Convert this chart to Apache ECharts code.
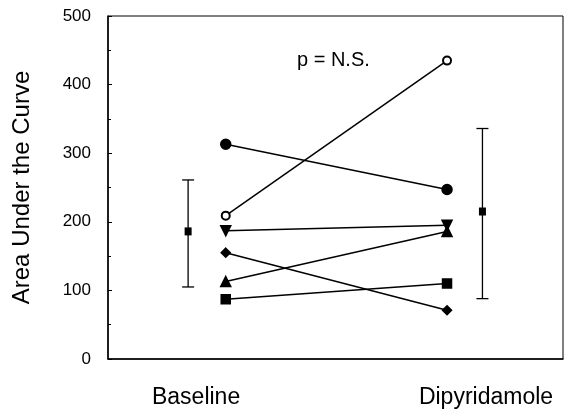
<!DOCTYPE html>
<html>
<head>
<meta charset="utf-8">
<script src="https://cdn.jsdelivr.net/npm/echarts@6/dist/echarts.min.js"></script>
<style>
  html, body { margin: 0; padding: 0; background: #fff; }
  #chart { width: 564px; height: 409px; }
</style>
</head>
<body>
<div id="chart"></div>
<script>
// values
const phases = ['Baseline', 'Dipyridamole'];
const openCircle = [209, 435];
const filledCircle = [313, 247];
const downTriangle = [187, 195];
const diamond = [155, 71];
const upTriangle = [113, 186];
const square = [87, 110];
const meanValues = [186, 215];
const lowValues = [105, 88];
const highValues = [261, 336];

// where things sit along the (hidden) x scale
const pointX = [1, 2];
const meanX = [0.83, 2.16];
const labelX = [0.866, 2.176];

const chart = echarts.init(document.getElementById('chart'));

function subject(values, symbol, size, extra) {
  return Object.assign({
    type: 'line',
    data: values.map((v, i) => [pointX[i], v]),
    symbol: symbol,
    symbolSize: size,
    showAllSymbol: true,
    lineStyle: { color: '#000', width: 1.5 },
    itemStyle: { color: '#000', borderColor: '#000', borderWidth: 1.5 },
    emphasis: { disabled: true },
    animation: false,
    z: 3
  }, extra || {});
}

const option = {
  animation: false,
  grid: {
    left: 108, right: 1, top: 16, bottom: 49,
    show: true, borderColor: '#000', borderWidth: 1
  },
  xAxis: {
    type: 'value',
    min: 0.468,
    max: 2.524,
    splitLine: { show: false },
    axisLine: { show: true, lineStyle: { color: '#000', width: 1.5 } },
    axisTick: { show: false },
    axisLabel: {
      customValues: labelX,
      formatter: v => phases[labelX.indexOf(v)] || '',
      fontFamily: 'Liberation Sans',
      fontSize: 23,
      color: '#000',
      margin: 27,
      showMinLabel: true,
      showMaxLabel: true
    }
  },
  yAxis: {
    type: 'value',
    min: 0,
    max: 500,
    interval: 100,
    name: 'Area Under the Curve',
    nameLocation: 'middle',
    nameGap: 74,
    nameTextStyle: { fontFamily: 'Liberation Sans', fontSize: 24, color: '#000' },
    splitLine: { show: false },
    axisLine: { show: true, lineStyle: { color: '#000', width: 1.5 } },
    axisTick: { show: true, inside: true, length: 4, lineStyle: { color: '#000' } },
    minorTick: { show: true, splitNumber: 2, length: 3, lineStyle: { color: '#000' } },
    axisLabel: { fontFamily: 'Liberation Sans', fontSize: 17, color: '#000', margin: 17 }
  },
  graphic: [{
    type: 'text',
    left: 297,
    top: 50,
    style: { text: 'p = N.S.', font: '20px "Liberation Sans"', fill: '#000' }
  }],
  series: [
    subject(openCircle, 'emptyCircle', 8, { itemStyle: { color: '#000', borderColor: '#000', borderWidth: 1.3 } }),
    subject(filledCircle, 'circle', 10),
    subject(downTriangle, 'triangle', 10, { symbolRotate: 180 }),
    subject(diamond, 'diamond', 9),
    subject(upTriangle, 'triangle', 10),
    subject(square, 'rect', 9),
    {
      type: 'custom',
      data: meanValues.map((m, i) => [meanX[i], m, lowValues[i], highValues[i]]),
      renderItem: function (params, api) {
        const x = api.value(0);
        const mid = api.coord([x, api.value(1)]);
        const lo = api.coord([x, api.value(2)]);
        const hi = api.coord([x, api.value(3)]);
        const cap = 6;
        const stroke = { stroke: '#000', lineWidth: 1.3 };
        return {
          type: 'group',
          children: [
            { type: 'line', shape: { x1: lo[0], y1: lo[1], x2: hi[0], y2: hi[1] }, style: stroke },
            { type: 'line', shape: { x1: hi[0] - cap, y1: hi[1], x2: hi[0] + cap, y2: hi[1] }, style: stroke },
            { type: 'line', shape: { x1: lo[0] - cap, y1: lo[1], x2: lo[0] + cap, y2: lo[1] }, style: stroke },
            { type: 'rect', shape: { x: mid[0] - 3.5, y: mid[1] - 4, width: 7, height: 8 }, style: { fill: '#000' } }
          ]
        };
      },
      z: 3
    }
  ]
};

chart.setOption(option);
</script>
</body>
</html>
